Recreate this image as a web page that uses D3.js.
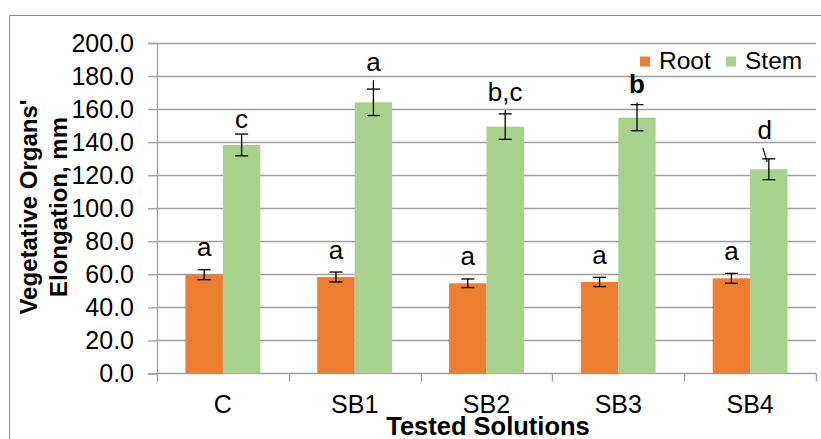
<!DOCTYPE html>
<html>
<head>
<meta charset="utf-8">
<script src="https://cdn.jsdelivr.net/npm/d3@7"></script>
<style>
  body { margin: 0; background: #fff; }
  text { font-family: "Liberation Sans", Arial, sans-serif; fill: #000; }
</style>
</head>
<body>
<div id="chart"></div>
<script>
// data
const categories = ['C', 'SB1', 'SB2', 'SB3', 'SB4'];
const series = ['Root', 'Stem'];
const rootValues = [59.8, 58.4, 54.6, 55.4, 57.6];
const rootErrors = [3.0, 3.0, 2.6, 2.8, 3.0];
const stemValues = [138.3, 164.1, 149.4, 154.8, 123.6];
const stemErrors = [6.6, 8.0, 7.7, 7.9, 6.3];
const rootLetters = ['a', 'a', 'a', 'a', 'a'];
const stemLetters = ['c', 'a', 'b,c', 'b', 'd'];
const stemLetterBold = [false, false, false, true, false];
// stray lines above the stem error bars (top value), as in the original
const stemLeaderTop = [null, 177.5, 159.5, 164.0, 136.5];
const yTicks = [0, 20, 40, 60, 80, 100, 120, 140, 160, 180, 200];

const width = 821;
const height = 439;
const margin = { top: 43, right: 5, bottom: 65.5, left: 157 };
const colors = { Root: '#ED7D31', Stem: '#A9D18E' };
const gridColor = '#a0a0a0';

const svg = d3
  .select('#chart')
  .append('svg')
  .attr('width', width)
  .attr('height', height);

svg.append('rect').attr('width', width).attr('height', height).attr('fill', '#fff');

// outer chart frame (cut off at right and bottom)
svg
  .append('path')
  .attr('d', `M9.5,${height + 2}V15.5H${width + 2}`)
  .attr('fill', 'none')
  .attr('stroke', '#8c8c8c')
  .attr('stroke-width', 1);

const x = d3
  .scaleBand()
  .domain(categories)
  .range([margin.left, width - margin.right])
  .paddingInner(0.432)
  .paddingOuter(0.216);

const xSub = d3.scaleBand().domain(series).range([0, x.bandwidth()]);

const y = d3
  .scaleLinear()
  .domain([0, 200])
  .range([height - margin.bottom, margin.top]);

// gridlines
svg
  .append('g')
  .selectAll('line')
  .data(yTicks.slice(1))
  .join('line')
  .attr('x1', margin.left)
  .attr('x2', width - margin.right)
  .attr('y1', (d) => Math.round(y(d)) + 0.5)
  .attr('y2', (d) => Math.round(y(d)) + 0.5)
  .attr('stroke', gridColor)
  .attr('stroke-width', 1.3);

// y axis
const yAxis = svg
  .append('g')
  .attr('transform', `translate(${margin.left},0)`)
  .call(
    d3
      .axisLeft(y)
      .tickValues(yTicks)
      .tickFormat(d3.format('.1f'))
      .tickSize(9)
      .tickPadding(14),
  );
yAxis.select('.domain').attr('stroke', gridColor).attr('stroke-width', 1.3);
yAxis.selectAll('.tick line').attr('stroke', gridColor).attr('stroke-width', 1.3);
yAxis
  .selectAll('.tick text')
  .attr('font-size', 25)
  .attr('font-family', '"Liberation Sans", Arial, sans-serif')
  .attr('fill', '#000');

// x axis line and ticks at band edges
const step = x.step();
const xEdges = d3.range(categories.length + 1).map((i) => margin.left + i * step);
svg
  .append('line')
  .attr('x1', margin.left)
  .attr('x2', width - margin.right)
  .attr('y1', y(0))
  .attr('y2', y(0))
  .attr('stroke', gridColor)
  .attr('stroke-width', 1.3);
svg
  .append('g')
  .selectAll('line')
  .data(xEdges)
  .join('line')
  .attr('x1', (d) => Math.round(d) + 0.5)
  .attr('x2', (d) => Math.round(d) + 0.5)
  .attr('y1', y(0))
  .attr('y2', y(0) + 8)
  .attr('stroke', gridColor)
  .attr('stroke-width', 1.3);

svg
  .append('g')
  .selectAll('text')
  .data(categories)
  .join('text')
  .attr('x', (d) => x(d) + x.bandwidth() / 2)
  .attr('y', 413)
  .attr('text-anchor', 'middle')
  .attr('font-size', 25)
  .text((d) => d);

// bars
const rows = categories.map((c, i) => ({
  cat: c,
  i,
  vals: [
    { key: 'Root', v: rootValues[i], e: rootErrors[i] },
    { key: 'Stem', v: stemValues[i], e: stemErrors[i] },
  ],
}));

const groups = svg
  .append('g')
  .selectAll('g')
  .data(rows)
  .join('g')
  .attr('transform', (d) => `translate(${x(d.cat)},0)`);

groups
  .selectAll('rect')
  .data((d) => d.vals)
  .join('rect')
  .attr('x', (d) => xSub(d.key))
  .attr('width', xSub.bandwidth())
  .attr('y', (d) => y(d.v))
  .attr('height', (d) => y(0) - y(d.v))
  .attr('fill', (d) => colors[d.key]);

// error bars
const cap = 6.5;
const err = groups
  .selectAll('g.err')
  .data((d) => d.vals)
  .join('g')
  .attr('class', 'err')
  .attr('stroke', '#000')
  .attr('stroke-width', 1.3);
err
  .append('line')
  .attr('x1', (d) => xSub(d.key) + xSub.bandwidth() / 2)
  .attr('x2', (d) => xSub(d.key) + xSub.bandwidth() / 2)
  .attr('y1', (d) => y(d.v - d.e))
  .attr('y2', (d) => y(d.v + d.e));
err
  .selectAll('line.cap')
  .data((d) => [
    { key: d.key, v: d.v - d.e },
    { key: d.key, v: d.v + d.e },
  ])
  .join('line')
  .attr('class', 'cap')
  .attr('x1', (d) => xSub(d.key) + xSub.bandwidth() / 2 - cap)
  .attr('x2', (d) => xSub(d.key) + xSub.bandwidth() / 2 + cap)
  .attr('y1', (d) => y(d.v))
  .attr('y2', (d) => y(d.v));

// stray leader lines above stem error bars
groups
  .filter((d) => stemLeaderTop[d.i] !== null)
  .append('line')
  .attr('x1', (d) => xSub('Stem') + xSub.bandwidth() / 2 + (d.i === 4 ? -6 : 0))
  .attr('x2', (d) => xSub('Stem') + xSub.bandwidth() / 2 + (d.i === 4 ? -1.5 : 0))
  .attr('y1', (d) => y(stemLeaderTop[d.i]))
  .attr('y2', (d) => (d.i === 4 ? y(stemValues[d.i] + stemErrors[d.i]) + 3 : y(stemValues[d.i] + stemErrors[d.i])))
  .attr('stroke', '#000')
  .attr('stroke-width', 1.2);

// significance letters
groups
  .append('text')
  .attr('x', (d) => xSub('Root') + xSub.bandwidth() / 2)
  .attr('y', (d) => y(rootValues[d.i] + rootErrors[d.i]) - 13.5)
  .attr('text-anchor', 'middle')
  .attr('font-size', 26)
  .text((d) => rootLetters[d.i]);

groups
  .append('text')
  .attr('x', (d) => xSub('Stem') + xSub.bandwidth() / 2 + (d.i === 4 ? -4 : 0))
  .attr('y', (d) => {
    const top = stemLeaderTop[d.i] !== null ? stemLeaderTop[d.i] : stemValues[d.i] + stemErrors[d.i];
    return y(top) - (d.i === 0 ? 6 : 9);
  })
  .attr('text-anchor', 'middle')
  .attr('font-size', 26)
  .attr('font-weight', (d) => (stemLetterBold[d.i] ? 'bold' : 'normal'))
  .text((d) => stemLetters[d.i]);

// legend
const legend = svg
  .append('g')
  .selectAll('g')
  .data(series)
  .join('g')
  .attr('transform', (d, i) => `translate(${[640, 726][i]},0)`);
legend
  .append('rect')
  .attr('x', 0)
  .attr('y', 56.5)
  .attr('width', 10)
  .attr('height', 10)
  .attr('fill', (d) => colors[d]);
legend
  .append('text')
  .attr('x', 19)
  .attr('y', 68.5)
  .attr('font-size', 24.5)
  .text((d) => d);

// axis titles
svg
  .append('text')
  .attr('x', 488)
  .attr('y', 435)
  .attr('text-anchor', 'middle')
  .attr('font-size', 25.5)
  .attr('font-weight', 'bold')
  .text('Tested Solutions');

const yTitle = svg
  .append('text')
  .attr('transform', 'translate(0,207) rotate(-90)')
  .attr('text-anchor', 'middle')
  .attr('font-size', 24)
  .attr('font-weight', 'bold');
yTitle.append('tspan').attr('x', 0).attr('y', 37).text("Vegetative Organs'");
yTitle.append('tspan').attr('x', 0).attr('y', 67).text('Elongation, mm');
</script>
</body>
</html>
